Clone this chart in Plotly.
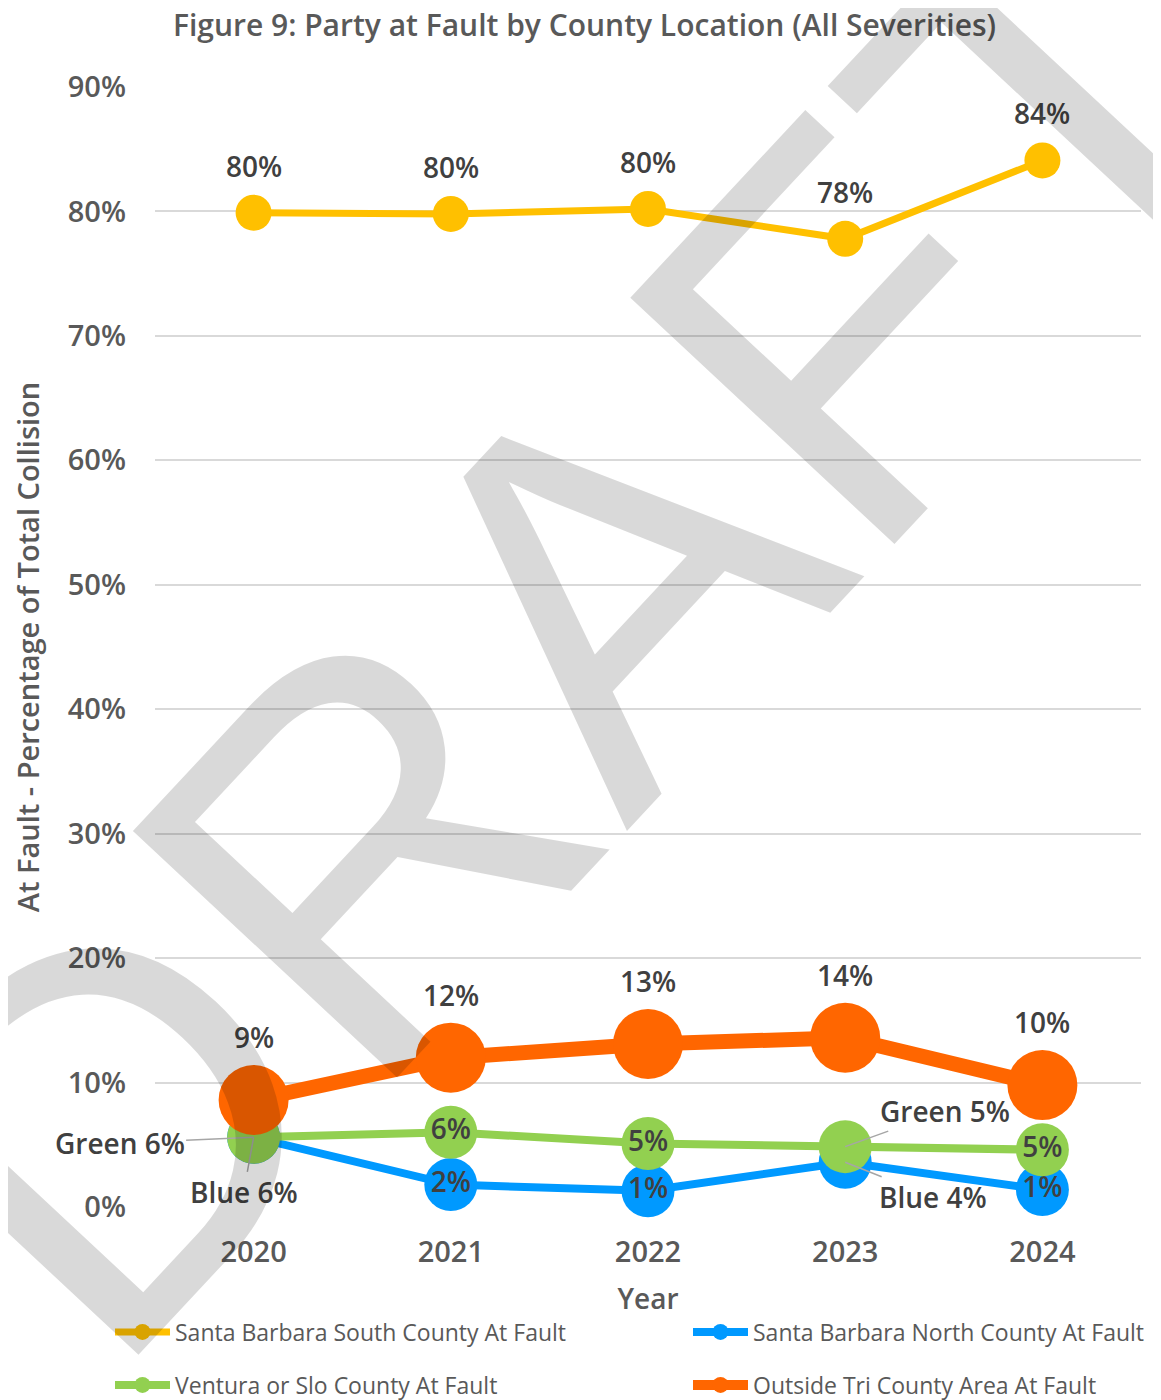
import plotly.graph_objects as go

# ---------------- data ----------------
years = ["2020", "2021", "2022", "2023", "2024"]
sb_south = [79.9, 79.8, 80.2, 77.8, 84.1]      # Santa Barbara South County At Fault
sb_north = [5.6, 1.8, 1.3, 3.6, 1.4]           # Santa Barbara North County At Fault
ventura_slo = [5.6, 6.0, 5.1, 4.85, 4.6]       # Ventura or Slo County At Fault
outside_tri = [8.6, 12.0, 13.1, 13.6, 9.8]     # Outside Tri County Area At Fault

series_names = [
    "Santa Barbara South County At Fault",
    "Santa Barbara North County At Fault",
    "Ventura or Slo County At Fault",
    "Outside Tri County Area At Fault",
]
y_tick_vals = [0, 10, 20, 30, 40, 50, 60, 70, 80, 90]
y_tick_text = ["0%", "10%", "20%", "30%", "40%", "50%", "60%", "70%", "80%", "90%"]

# which points get a label inside the marker (others use callouts)
inner_label_idx = [1, 2, 4]
callout_idx = [0, 3]

FONT = "Open Sans"
LABEL_COLOR = "#404040"
AXIS_COLOR = "#595959"

YELLOW = "#FFC000"
BLUE = "#0099FF"
GREEN = "#92D050"
ORANGE = "#FF6600"

W, H = 1153, 1392
ML, MR, MT, MB = 147, 20, 79, 193
PW, PH = W - ML - MR, H - MT - MB


def pct(v):
    return f"{round(v)}%"


def inner_text(vals):
    return [pct(v) if i in inner_label_idx else "" for i, v in enumerate(vals)]


LBL_FONT = dict(family=FONT, size=28, color=LABEL_COLOR, weight=600)

fig = go.Figure()

fig.add_trace(go.Scatter(
    x=years, y=sb_south, name=series_names[0], mode="lines+markers",
    line=dict(color=YELLOW, width=7), marker=dict(size=36, color=YELLOW),
    cliponaxis=False, legend="legend",
))
fig.add_trace(go.Scatter(
    x=years, y=sb_north, name=series_names[1], mode="lines+markers+text",
    line=dict(color=BLUE, width=8), marker=dict(size=53, color=BLUE),
    text=inner_text(sb_north), textposition="middle center", textfont=LBL_FONT,
    cliponaxis=False, legend="legend2",
))
fig.add_trace(go.Scatter(
    x=years, y=ventura_slo, name=series_names[2], mode="lines+markers+text",
    line=dict(color=GREEN, width=8), marker=dict(size=53, color=GREEN),
    text=inner_text(ventura_slo), textposition="middle center", textfont=LBL_FONT,
    cliponaxis=False, legend="legend3",
))
fig.add_trace(go.Scatter(
    x=years, y=outside_tri, name=series_names[3], mode="lines+markers",
    line=dict(color=ORANGE, width=15), marker=dict(size=70, color=ORANGE),
    cliponaxis=False, legend="legend4",
))

annotations = []
# labels above yellow and orange markers
for vals, shift in ((sb_south, 47), (outside_tri, 63)):
    for i, v in enumerate(vals):
        annotations.append(dict(
            x=i, y=v, xref="x", yref="y", text=pct(v), showarrow=False,
            yshift=shift, font=LBL_FONT,
        ))

# callouts for overlapping green / blue points
callout_offsets = {
    ("Green", 0): (-134, 6), ("Blue", 0): (-10, 55),
    ("Green", 3): (100, -36), ("Blue", 3): (88, 35),
}
for label, vals in (("Green", ventura_slo), ("Blue", sb_north)):
    for i in callout_idx:
        ax, ay = callout_offsets[(label, i)]
        annotations.append(dict(
            x=i, y=vals[i], xref="x", yref="y",
            text=f"{label} {pct(vals[i])}", showarrow=True, arrowhead=0,
            arrowwidth=1.5, arrowcolor="#A6A6A6", ax=ax, ay=ay, font=LBL_FONT,
        ))

# DRAFT watermark
annotations.append(dict(
    x=0.424, y=0.522, xref="paper", yref="paper", text="DRAFT",
    showarrow=False, textangle=-47, xanchor="center", yanchor="middle",
    font=dict(family="Liberation Sans", size=525, color="rgba(0,0,0,0.15)"),
))


def legend_box(col, row):
    text_x = (175, 753)[col] - 8          # screen px of the legend text start
    row_y = (1332, 1385)[row] - 8          # screen px of the row centre
    return dict(
        orientation="h", x=(text_x - 65 - ML) / PW, xanchor="left",
        y=(MT + PH - row_y) / PH, yanchor="middle",
        font=dict(family=FONT, size=23, color=AXIS_COLOR),
        bgcolor="rgba(0,0,0,0)", itemwidth=55,
    )


fig.update_layout(
    template="none",
    width=W, height=H,
    margin=dict(l=ML, r=MR, t=MT, b=MB, autoexpand=False),
    paper_bgcolor="white", plot_bgcolor="white",
    font=dict(family=FONT, color=AXIS_COLOR),
    title=dict(
        text="Figure 9: Party at Fault by County Location (All Severities)",
        x=0.5, xref="container", xanchor="center",
        y=1 - 17 / H, yref="container", yanchor="middle",
        font=dict(family=FONT, size=30, color=AXIS_COLOR, weight=600),
    ),
    xaxis=dict(
        type="category", range=[-0.5, 4.5], showgrid=False, zeroline=False,
        showline=False, ticks="", automargin=False, ticklabelstandoff=25,
        tickfont=dict(family=FONT, size=29, color=AXIS_COLOR, weight=600),
        title=dict(text="Year", standoff=20,
                   font=dict(family=FONT, size=28, color=AXIS_COLOR, weight=600)),
    ),
    yaxis=dict(
        range=[0, 90], tickvals=y_tick_vals, ticktext=y_tick_text,
        showgrid=True, gridcolor="#D9D9D9", gridwidth=1.5, zeroline=False,
        showline=False, ticks="", automargin=False, ticklabelstandoff=28,
        tickfont=dict(family=FONT, size=29, color=AXIS_COLOR, weight=600),
        title=dict(text="At Fault - Percentage of Total Collision", standoff=28,
                   font=dict(family=FONT, size=29, color=AXIS_COLOR, weight=600)),
    ),
    legend=legend_box(0, 0),
    legend2=legend_box(1, 0),
    legend3=legend_box(0, 1),
    legend4=legend_box(1, 1),
    annotations=annotations,
    showlegend=True,
)

fig.write_html("out.html")
